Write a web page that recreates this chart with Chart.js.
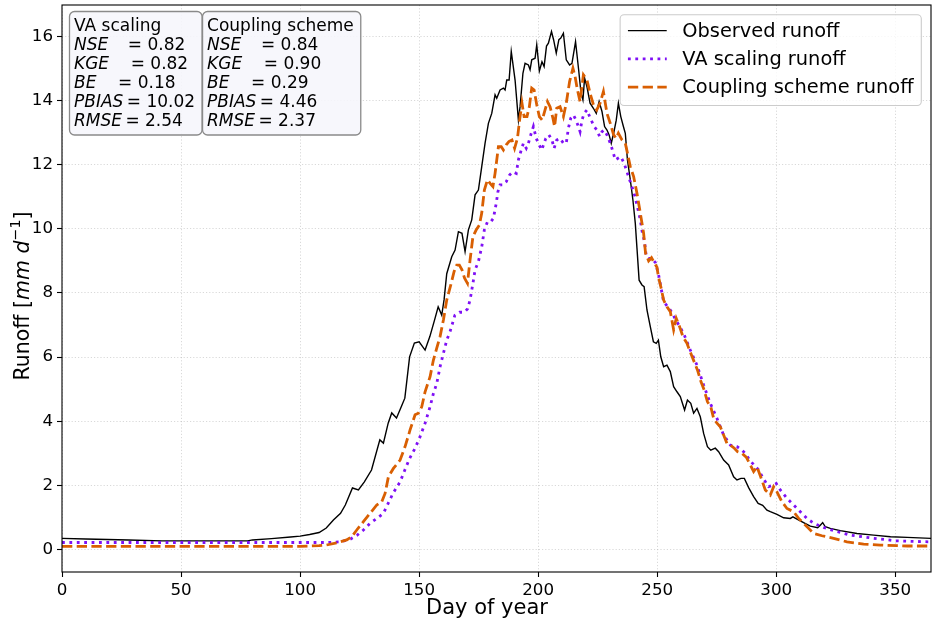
<!DOCTYPE html>
<html><head><meta charset="utf-8">
<script src="https://cdn.jsdelivr.net/npm/chart.js@4.4.1/dist/chart.umd.min.js"></script>
<style>html,body{margin:0;padding:0;background:#fff}#wrap{width:935px;height:625px;position:relative}</style>
</head><body><div id="wrap"><canvas id="c"></canvas></div>
<script>
// ---------- data ----------
const obsDays = [0,10,28,42,60,78,80,88,96,100,104,108,111,114,117,119,122,124.5,127,130,133.5,135,137,138.5,140.5,142.5,144,146,148,150,152.5,154.5,156.5,158,159.5,160.5,161.6,163.7,165.1,166.5,168,169.3,170.7,172.1,173.5,174.9,176.3,177.7,179.1,180.5,181.9,182.6,184,185.4,186.1,186.8,187.8,188.7,190.3,191.7,192.4,193.6,194.5,195.9,196.6,197.3,198.7,199.4,200.5,201.6,202.5,203.5,204.3,205.6,206.5,207.6,208.7,209.5,210.6,211.8,213.2,214.2,215.7,217,218,218.8,219.5,220.5,221.8,223.2,224.4,225.6,226.8,227.9,228.9,229.8,230.7,231.7,232.8,233.7,234.7,235.8,236.6,237.5,238.7,239.8,240.8,241.5,242.4,243.6,244.5,245.7,247.1,248.4,249.6,250.5,251.5,252.7,254.1,255.5,256.9,258.3,259.7,261.5,262.7,264.1,265.3,266.7,268.1,269.5,271.1,272.5,274.4,275.8,277.9,280,282.1,283.5,285.2,286.6,288.4,290.5,292.4,294.3,296.1,297.5,300.3,303.1,305.9,307,308.7,311.5,314.3,317.4,318.5,319.5,320.6,322.7,326.9,333.9,340.9,348,355,365];
const obsVals = [0.35,0.33,0.30,0.27,0.27,0.27,0.30,0.34,0.39,0.42,0.47,0.53,0.67,0.92,1.13,1.39,1.92,1.86,2.11,2.48,3.42,3.32,3.94,4.26,4.10,4.45,4.72,6.01,6.44,6.48,6.22,6.64,7.16,7.57,7.31,7.80,8.60,9.13,9.34,9.91,9.86,9.29,9.97,10.28,11.06,11.21,11.94,12.67,13.29,13.60,14.18,14.07,14.33,14.39,14.33,14.64,14.64,15.53,14.64,13.39,13.81,14.85,15.16,15.11,14.96,15.27,15.32,15.74,14.92,15.21,15.06,15.70,15.79,16.15,15.89,15.48,15.90,15.95,16.10,15.27,15.11,15.16,15.84,14.96,14.23,14.02,14.70,14.43,13.92,13.76,13.60,13.97,13.66,13.19,13.08,12.93,12.67,12.98,13.39,13.92,13.50,13.19,12.98,12.15,11.53,10.90,10.17,9.40,8.40,8.25,8.20,7.47,6.95,6.48,6.43,6.53,6.01,5.70,5.75,5.55,5.08,4.92,4.77,4.35,4.66,4.56,4.25,4.40,4.14,3.62,3.21,3.10,3.16,3.05,2.79,2.64,2.27,2.17,2.22,2.22,1.93,1.65,1.44,1.38,1.23,1.18,1.10,0.99,0.97,1.02,0.95,0.84,0.73,0.68,0.76,0.84,0.71,0.66,0.59,0.50,0.45,0.40,0.38,0.35];

const vaDays = [0,100,111,117,121,124,126.6,129.4,132.2,135,137,139,142,144,146,148.3,150.4,152.5,154.6,156,157.4,158.8,160.2,161.6,163,165,167,169,170.3,171.4,172.6,173.5,174.9,176.3,177.4,178.7,180.1,181.2,182.4,183.1,184,185.2,186.6,188,189.4,190.8,191.7,192.7,193.8,195,195.9,197.1,198,199.2,200.1,201.5,203.2,204.5,205.8,206.7,207.8,209.2,210.6,211.8,212.7,213.7,214.8,215.9,216.9,217.6,218.4,219.3,220.5,221.6,222.6,223.5,224.7,225.8,226.8,227.7,228.9,230.3,231.4,232.4,233.5,234.7,236.1,237.5,238.9,240.3,241.5,242.9,243.8,244.7,245.4,246.3,247.7,249.2,250.5,251.5,252.7,255.5,258.3,261.1,263.9,266.7,269.5,272.3,275.1,277.9,280.7,283.5,285.6,287,289.1,291.2,292.6,294.7,296.8,298.9,300,301.7,304.5,307.3,310.1,312.9,315.7,319.9,325.5,331.1,340.9,350.7,365];
const vaVals = [0.22,0.22,0.22,0.24,0.32,0.45,0.61,0.82,0.97,1.13,1.44,1.75,2.11,2.48,2.84,3.16,3.52,3.94,4.45,4.87,5.18,5.70,6.12,6.53,6.80,7.30,7.40,7.40,7.50,7.78,8.30,8.72,8.98,9.44,9.97,10.22,10.22,10.33,10.80,11.16,11.37,11.37,11.47,11.68,11.78,11.73,12.15,12.41,12.67,12.51,12.67,12.98,13.19,12.82,12.67,12.46,12.82,12.93,12.77,12.51,12.77,12.82,12.67,12.67,13.14,13.45,13.55,13.39,13.19,13.03,13.39,13.60,13.71,13.50,13.34,13.19,13.08,12.88,13.03,13.08,12.93,12.67,12.41,12.15,12.20,12.25,12.05,11.73,11.42,11.11,10.75,10.28,9.86,9.60,9.13,9.08,9.08,8.95,8.60,8.20,7.73,7.47,7.10,6.74,6.22,5.75,5.13,4.56,4.09,3.57,3.26,3.21,3.10,3.00,2.76,2.60,2.48,2.20,1.96,2.01,2.06,1.86,1.60,1.39,1.18,0.97,0.82,0.69,0.56,0.45,0.35,0.27,0.24];

const cpDays = [0,100,108,111,115.4,119.6,121.7,123.8,126.6,129.4,132.2,134.3,135.7,137.1,139.2,142,144.1,146.2,148.3,149.7,151.1,152.5,154.6,156,157.4,158.8,160.2,161.6,163.3,164.7,165.8,166.9,168,169.1,170.3,171.4,172.6,174,175.3,176.3,177.4,178.7,179.8,181,181.9,183.3,184.5,185.4,186.6,187.7,189,190.1,191.3,192.2,193.2,194.1,195.3,196.3,197.3,198.3,199.4,200.5,201.7,202.9,203.9,205,206.2,206.9,207.8,209.2,210.6,211.8,213.2,214.6,215.5,216.5,217.6,219,220.5,221.8,223.2,224.6,226,227.4,228.9,230.3,231.7,232.8,233.7,235.2,236.6,237.5,238.7,240.1,241.5,242.9,244.3,245.1,246.4,247.6,248.5,249.9,250.5,251.5,252.7,254.1,255.5,256.9,258,259.4,260.8,262.5,264.1,265.5,266.9,268.4,269.7,271.1,272.5,273.7,275.1,276.5,277.9,279.3,280.7,282.4,283.8,285.6,287.4,289.1,290.5,291.9,293.3,295.4,297.5,298.9,300.3,302.4,304.5,307.3,309.4,311.5,313.6,315.7,319.2,324.1,329.7,336.7,343.7,355,365];
const cpVals = [0.10,0.10,0.12,0.14,0.21,0.30,0.40,0.61,0.87,1.13,1.39,1.49,1.75,2.27,2.53,2.79,3.21,3.73,4.20,4.25,4.45,4.92,5.39,5.91,6.28,6.64,7.16,7.78,8.25,8.67,8.87,8.87,8.72,8.46,8.30,9.03,9.76,9.97,10.12,10.49,11.21,11.53,11.42,11.32,11.73,12.56,12.56,12.46,12.62,12.72,12.77,12.51,12.82,13.39,13.92,13.50,13.50,13.81,14.39,14.33,13.87,13.50,13.39,13.71,13.97,13.81,13.45,13.19,13.76,13.81,13.50,13.92,14.59,15.01,14.75,14.33,13.97,14.80,14.64,14.23,13.87,13.71,13.92,14.28,13.60,13.29,12.93,12.82,12.98,12.77,12.67,12.36,11.94,11.63,11.11,10.49,9.86,9.24,9.00,9.10,8.98,8.80,8.51,8.20,7.78,7.57,7.42,6.85,7.21,6.95,6.64,6.43,6.12,5.86,5.60,5.23,4.98,4.61,4.45,4.09,3.94,3.83,3.57,3.31,3.26,3.16,3.05,3.00,2.88,2.64,2.43,2.58,2.30,1.86,1.70,1.96,1.80,1.49,1.28,1.18,0.97,0.82,0.66,0.50,0.43,0.35,0.24,0.17,0.14,0.11,0.11];

const xTicks = [0,50,100,150,200,250,300,350];
const yTicks = [0,2,4,6,8,10,12,14,16];
const seriesNames = ['Observed runoff','VA scaling runoff','Coupling scheme runoff'];
const statTitles = ['VA scaling','Coupling scheme'];
const statLabels = ['NSE','KGE','BE','PBIAS','RMSE'];
const statGaps = ['   \u2009','    ','    ','\u2009','\u2009'];
const vaStats = ['0.82','0.82','0.18','10.02','2.54'];
const cpStats = ['0.84','0.90','0.29','4.46','2.37'];
const xTitle = 'Day of year';

// ---------- chart ----------
const FF = '"DejaVu Sans", sans-serif';
function pts(d, v) { return d.map((x, i) => ({ x: x, y: v[i] })); }

const framePlugin = {
  id: 'frame',
  afterDraw(chart) {
    const ctx = chart.ctx, ca = chart.chartArea;
    ctx.save();
    ctx.strokeStyle = '#000'; ctx.lineWidth = 1.1; ctx.setLineDash([]);
    ctx.strokeRect(ca.left, ca.top, ca.right - ca.left, ca.bottom - ca.top);

    // y title (mixed fonts)
    const fs = 20.5;
    const parts = [
      { t: 'Runoff [', f: fs + 'px ' + FF, dy: 0 },
      { t: 'mm d', f: 'italic ' + fs + 'px ' + FF, dy: 0 },
      { t: '\u22121', f: (fs * 0.7).toFixed(1) + 'px ' + FF, dy: -fs * 0.42 },
      { t: ']', f: fs + 'px ' + FF, dy: 0 }
    ];
    let tot = 0;
    parts.forEach(p => { ctx.font = p.f; p.w = ctx.measureText(p.t).width; tot += p.w; });
    ctx.translate(29, 296);
    ctx.rotate(-Math.PI / 2);
    ctx.fillStyle = '#000'; ctx.textBaseline = 'alphabetic'; ctx.textAlign = 'left';
    let u = -tot / 2;
    parts.forEach(p => { ctx.font = p.f; ctx.fillText(p.t, u, p.dy); u += p.w; });
    ctx.restore();

    // x title
    ctx.save();
    ctx.font = '21px ' + FF; ctx.fillStyle = '#000';
    ctx.textAlign = 'center'; ctx.textBaseline = 'alphabetic';
    ctx.fillText(xTitle, 487, 614);
    ctx.restore();

    // stats boxes
    const bfs = 17, lh = 19.1, top = 11.5, base0 = 30.7;
    let bx = 69.5;
    [[statTitles[0], vaStats], [statTitles[1], cpStats]].forEach(([title, vals]) => {
      ctx.save();
      ctx.font = bfs + 'px ' + FF;
      let maxW = ctx.measureText(title).width;
      const lines = statLabels.map((lab, i) => {
        ctx.font = 'italic ' + bfs + 'px ' + FF;
        const w1 = ctx.measureText(lab).width;
        ctx.font = bfs + 'px ' + FF;
        const rest = statGaps[i] + '= ' + vals[i];
        const w2 = ctx.measureText(rest).width;
        maxW = Math.max(maxW, w1 + w2);
        return { lab, rest, w1 };
      });
      const w = maxW + 11.5, h = 123.5;
      ctx.beginPath();
      ctx.roundRect(bx, top, w, h, 5);
      ctx.fillStyle = 'rgba(246,246,252,0.9)'; ctx.fill();
      ctx.strokeStyle = '#8a8a8a'; ctx.lineWidth = 1.3; ctx.stroke();
      ctx.fillStyle = '#000'; ctx.textBaseline = 'alphabetic'; ctx.textAlign = 'left';
      const tx = bx + 4.5;
      ctx.font = bfs + 'px ' + FF;
      ctx.fillText(title, tx, base0);
      lines.forEach((ln, i) => {
        const y = base0 + lh * (i + 1);
        ctx.font = 'italic ' + bfs + 'px ' + FF;
        ctx.fillText(ln.lab, tx, y);
        ctx.font = bfs + 'px ' + FF;
        ctx.fillText(ln.rest, tx + ln.w1, y);
      });
      ctx.restore();
      bx = bx + w + 0.5;
    });

    // legend
    const lfs = 19.4, pad = 7.8, hl = 38.8, tp = 15.5, rowH = 28.3;
    ctx.save();
    ctx.font = lfs + 'px ' + FF;
    let tw = 0;
    chart.data.datasets.forEach(ds => { tw = Math.max(tw, ctx.measureText(ds.label).width); });
    const lw = pad + hl + tp + tw + pad;
    const lright = ca.right - 9.7, ltop = ca.top + 9.7;
    const lleft = lright - lw, lh2 = 90.8;
    ctx.beginPath();
    ctx.roundRect(lleft, ltop, lw, lh2, 4);
    ctx.fillStyle = 'rgba(255,255,255,0.8)'; ctx.fill();
    ctx.strokeStyle = '#cccccc'; ctx.lineWidth = 1.1; ctx.stroke();
    chart.data.datasets.forEach((ds, i) => {
      const y = ltop + 15.9 + i * rowH;
      ctx.beginPath();
      ctx.strokeStyle = ds.borderColor; ctx.lineWidth = ds.borderWidth;
      ctx.setLineDash(ds.borderDash || []);
      ctx.lineCap = 'butt';
      ctx.moveTo(lleft + pad, y); ctx.lineTo(lleft + pad + hl, y);
      ctx.stroke();
      ctx.setLineDash([]);
      ctx.fillStyle = '#000'; ctx.textBaseline = 'middle'; ctx.textAlign = 'left';
      ctx.fillText(ds.label, lleft + pad + hl + tp, y + 1);
    });
    ctx.restore();
  }
};

new Chart(document.getElementById('c'), {
  type: 'line',
  data: {
    datasets: [
      { label: seriesNames[0], data: pts(obsDays, obsVals), borderColor: '#000000', borderWidth: 1.4, pointRadius: 0, tension: 0, order: 3 },
      { label: seriesNames[1], data: pts(vaDays, vaVals), borderColor: '#7f10f5', borderWidth: 2.8, borderDash: [2.8, 4.6], pointRadius: 0, tension: 0, order: 2 },
      { label: seriesNames[2], data: pts(cpDays, cpVals), borderColor: '#d95f02', borderWidth: 2.8, borderDash: [10.3, 4.4], pointRadius: 0, tension: 0, order: 1 }
    ]
  },
  options: {
    responsive: true, maintainAspectRatio: false, animation: false,
    layout: { padding: { top: 5, right: 4, left: 0, bottom: 0 } },
    plugins: { legend: { display: false }, tooltip: { enabled: false } },
    scales: {
      x: {
        type: 'linear', min: 0, max: 365,
        afterBuildTicks: s => { s.ticks = xTicks.map(v => ({ value: v })); },
        afterFit: s => { s.height = 53; s.paddingLeft = 0; s.paddingRight = 0; },
        ticks: { font: { family: FF, size: 16.7 }, color: '#000', padding: 4, maxRotation: 0, autoSkip: false },
        grid: { color: 'rgba(170,170,170,0.45)', lineWidth: 1, tickColor: '#000', tickLength: 5, tickWidth: 1.1, tickBorderDash: [] },
        border: { display: false, dash: [1.2, 2] }
      },
      y: {
        type: 'linear', min: -0.70, max: 16.98,
        afterBuildTicks: s => { s.ticks = yTicks.map(v => ({ value: v })); },
        afterFit: s => { s.width = 62; s.paddingTop = 0; s.paddingBottom = 0; },
        ticks: { font: { family: FF, size: 16.7 }, color: '#000', padding: 4, autoSkip: false },
        grid: { color: 'rgba(170,170,170,0.45)', lineWidth: 1, tickColor: '#000', tickLength: 5, tickWidth: 1.1, tickBorderDash: [] },
        border: { display: false, dash: [1.2, 2] }
      }
    }
  },
  plugins: [framePlugin]
});
</script>
</body></html>
